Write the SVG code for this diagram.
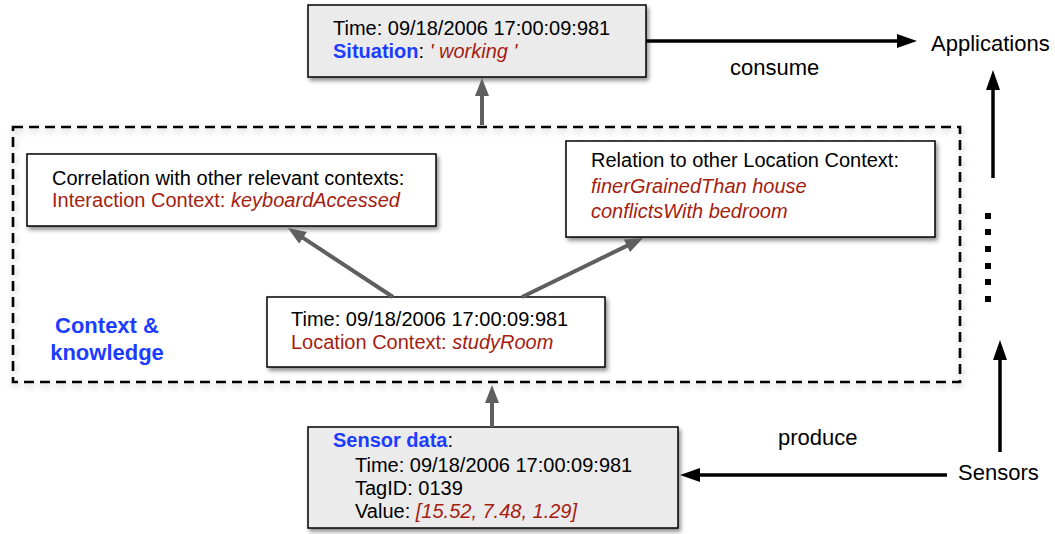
<svg xmlns="http://www.w3.org/2000/svg" width="1055" height="534" viewBox="0 0 1055 534">
<defs>
  <filter id="sh" x="-10%" y="-20%" width="130%" height="150%">
    <feDropShadow dx="2" dy="3" stdDeviation="2" flood-color="#000" flood-opacity="0.45"/>
  </filter>
  <filter id="shd" x="-5%" y="-10%" width="110%" height="120%">
    <feDropShadow dx="1" dy="3" stdDeviation="3" flood-color="#000" flood-opacity="0.25"/>
  </filter>
  <marker id="ab" markerUnits="userSpaceOnUse" markerWidth="22" markerHeight="16" refX="4" refY="7" orient="auto">
    <path d="M0,0 L20,7 L0,14 z" fill="#000"/>
  </marker>
  <marker id="ag" markerUnits="userSpaceOnUse" markerWidth="20" markerHeight="16" refX="4" refY="7" orient="auto">
    <path d="M0,0 L18,7 L0,14 z" fill="#5f5f5f"/>
  </marker>
  <style>
    text { font-family: "Liberation Sans", Arial, Helvetica, sans-serif; font-size: 20px; fill: #000; }
    .lbl { font-size: 22px; }
    .red { fill: #a51d10; }
    .blue { fill: #1c3cff; font-weight: bold; }
    .it { font-style: italic; }
    .box { stroke: #000; stroke-width: 1.5; filter: url(#sh); }
    .gray { fill: #ebebeb; }
    .white { fill: #fff; }
    .blk { stroke: #000; stroke-width: 3.5; fill: none; marker-end: url(#ab); }
    .gr { stroke: #5f5f5f; stroke-width: 4; fill: none; marker-end: url(#ag); }
  </style>
</defs>
<rect width="1055" height="534" fill="#fff"/>

<g id="context-knowledge">
  <rect x="13" y="127" width="947" height="255" fill="none" stroke="#000" stroke-width="2.6" stroke-dasharray="10 6" filter="url(#shd)"/>
  <text x="107" y="333" text-anchor="middle" class="blue lbl">Context &amp;</text>
  <text x="107" y="360" text-anchor="middle" class="blue lbl">knowledge</text>
</g>

<g id="situation">
  <rect x="308" y="5" width="338" height="72" class="box gray"/>
  <text x="333" y="35">Time: 09/18/2006 17:00:09:981</text>
  <text x="333" y="58"><tspan class="blue">Situation</tspan>: <tspan class="red it">' working '</tspan></text>
</g>

<g id="correlation">
  <rect x="27" y="154" width="409" height="72" class="box white"/>
  <text x="52" y="185">Correlation with other relevant contexts:</text>
  <text x="52" y="207" class="red">Interaction Context: <tspan class="it">keyboardAccessed</tspan></text>
</g>

<g id="relation">
  <rect x="566" y="141" width="369" height="96" class="box white"/>
  <text x="591" y="167">Relation to other Location Context:</text>
  <text x="591" y="193" class="red it">finerGrainedThan house</text>
  <text x="591" y="218" class="red it">conflictsWith bedroom</text>
</g>

<g id="location">
  <rect x="267" y="297" width="338" height="70" class="box white"/>
  <text x="291" y="326">Time: 09/18/2006 17:00:09:981</text>
  <text x="291" y="349" class="red">Location Context: <tspan class="it">studyRoom</tspan></text>
</g>

<g id="sensor-data">
  <rect x="308" y="427" width="370" height="101" class="box gray"/>
  <text x="333" y="447"><tspan class="blue">Sensor data</tspan>:</text>
  <text x="355" y="472">Time: 09/18/2006 17:00:09:981</text>
  <text x="355" y="495">TagID: 0139</text>
  <text x="355" y="518">Value: <tspan class="red it">[15.52, 7.48, 1.29]</tspan></text>
</g>

<g id="applications">
  <text x="931" y="51" class="lbl">Applications</text>
</g>

<g id="sensors">
  <text x="958" y="480" class="lbl">Sensors</text>
</g>

<g id="connectors">
  <line x1="646" y1="41" x2="901" y2="41" class="blk"/>
  <text x="730" y="75" class="lbl">consume</text>
  <line x1="993" y1="178" x2="993" y2="86" class="blk"/>
  <line x1="1000" y1="452" x2="1000" y2="356" class="blk"/>
  <line x1="947" y1="475" x2="696" y2="475" class="blk"/>
  <text x="778" y="445" class="lbl">produce</text>
  <line x1="482" y1="125" x2="482" y2="92" class="gr"/>
  <line x1="492" y1="427" x2="492" y2="399" class="gr"/>
  <line x1="393" y1="297" x2="299.7" y2="235.7" class="gr"/>
  <line x1="522" y1="297" x2="630.4" y2="244.1" class="gr"/>
  <g fill="#000">
    <rect x="985" y="213" width="6" height="6"/>
    <rect x="985" y="229" width="6" height="6"/>
    <rect x="985" y="246" width="6" height="6"/>
    <rect x="985" y="263" width="6" height="6"/>
    <rect x="985" y="279" width="6" height="6"/>
    <rect x="985" y="296" width="6" height="6"/>
  </g>
</g>
</svg>
